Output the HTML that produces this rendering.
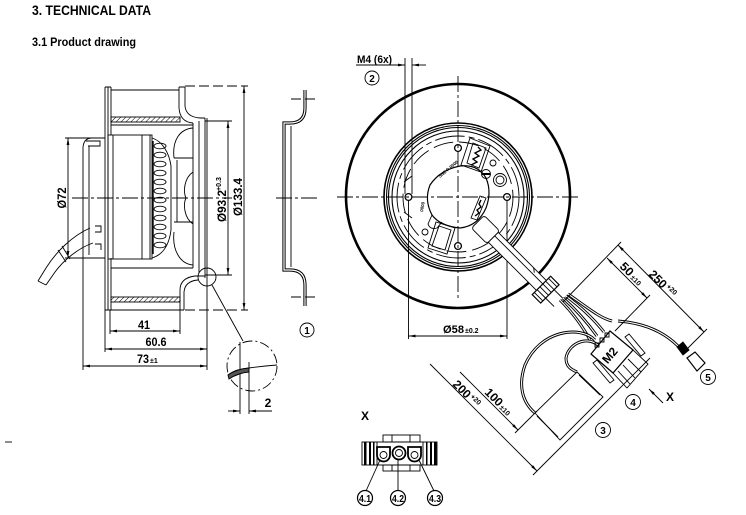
<!DOCTYPE html>
<html><head><meta charset="utf-8"><style>
html,body{margin:0;padding:0;background:#fff;}
svg{display:block}
.s line,.s path,.s circle,.s rect,.s polyline,.s polygon,.s ellipse{fill:none;stroke:#000;stroke-width:0.9}
text{font-family:"Liberation Sans",Arial,sans-serif;font-weight:bold;fill:#000;stroke:none}
.cl{stroke-dasharray:16 3 3 3}
.dl{stroke-dasharray:10 4}
.dim{marker-start:url(#a);marker-end:url(#a)}
.ae{marker-end:url(#a)}
.wb{stroke-width:3 !important}
.ww{stroke:#fff !important;stroke-width:1.1 !important}
</style></head><body>
<svg class="s" width="746" height="515" viewBox="0 0 746 515" xmlns="http://www.w3.org/2000/svg">
<defs>
<marker id="a" viewBox="0 0 10 4" refX="10" refY="2" markerWidth="7" markerHeight="2.8" markerUnits="userSpaceOnUse" orient="auto-start-reverse"><path d="M0 0L10 2L0 4z" style="fill:#000;stroke:none"/></marker>
<pattern id="h" width="3.5" height="3.5" patternUnits="userSpaceOnUse" patternTransform="rotate(45)"><line x1="0" y1="0" x2="0" y2="3.5" style="stroke:#000;stroke-width:1"/></pattern>
</defs>

<!-- Titles -->
<text x="32" y="15" font-size="14" textLength="119" lengthAdjust="spacingAndGlyphs">3. TECHNICAL DATA</text>
<text x="32" y="46" font-size="11.5" textLength="104" lengthAdjust="spacingAndGlyphs">3.1 Product drawing</text>

<!-- ================= LEFT SIDE VIEW ================= -->
<line class="cl" x1="72" y1="198" x2="232" y2="198"/>
<!-- plate -->
<path d="M105 87 V310 M108 87 V310 M111 87 V135 M111 258 V310 M105 87 H111 M105 310 H111"/>
<!-- top ring -->
<line x1="111" y1="90" x2="179" y2="90"/>
<rect x="111" y="117" width="69" height="5" style="fill:url(#h)"/>
<line x1="111" y1="125" x2="193" y2="125"/>
<path d="M179 87 V108 Q180 122 193 123 M185 87 V106 Q186 117 200 118 H205 M179 87 H185"/>
<!-- bottom ring -->
<line x1="111" y1="268" x2="193" y2="268"/>
<rect x="111" y="297" width="69" height="5" style="fill:url(#h)"/>
<path d="M105 310 H184 M180 310 V290 Q180 278 195 276 H205 M184 310 V292 Q185 281 198 280"/>
<!-- blades -->
<path d="M193 123 V268 M205 118 V278 M199 121 V273"/>
<path d="M193 128 C180 129 172 140 174 158 M174 158 H193 M174 222 H193 M193 265 C180 264 172 250 174 232 M177 160 V222"/>
<path d="M193 172 C184 178 183 192 186 198 C183 204 184 218 193 224"/>
<!-- motor cap -->
<path d="M105 138 H92 Q84 138 83 147 V258 H105"/>
<path d="M89 146 V255 M86 141 H100 V146 H88 M95 226 H101 V232 H95 M95 244 H101 V250"/>
<!-- motor body -->
<rect x="108" y="135" width="44" height="124"/>
<line x1="113" y1="135" x2="113" y2="259"/>
<line x1="142" y1="135" x2="142" y2="259"/>
<line x1="150" y1="135" x2="150" y2="259"/>
<path d="M152 138 C162 141 169 152 171 166 V230 C169 246 162 255 152 258"/>
<g style="stroke-width:1.3">
<ellipse cx="160" cy="146" rx="6" ry="2.8"/>
<ellipse cx="160" cy="155" rx="6" ry="2.8"/>
<ellipse cx="160" cy="164" rx="6" ry="2.8"/>
<ellipse cx="160" cy="173" rx="6" ry="2.8"/>
<ellipse cx="160" cy="182" rx="6" ry="2.8"/>
<ellipse cx="160" cy="191" rx="6" ry="2.8"/>
<ellipse cx="160" cy="200" rx="6" ry="2.8"/>
<ellipse cx="160" cy="209" rx="6" ry="2.8"/>
<ellipse cx="160" cy="218" rx="6" ry="2.8"/>
<ellipse cx="160" cy="227" rx="6" ry="2.8"/>
<ellipse cx="160" cy="236" rx="6" ry="2.8"/>
<ellipse cx="160" cy="245" rx="6" ry="2.8"/>
</g>
<line x1="153" y1="141" x2="153" y2="254" style="stroke-width:1.4"/>
<!-- cable -->
<path d="M90 228 C72 236 56 252 46 268 L38 281 M93 243 C78 248 63 261 55 272 L46 285 M38 281 L46 285 M58 250 L66 262 M62 246 L70 259"/>
<!-- dims -->
<line x1="65" y1="138" x2="92" y2="138"/>
<line x1="65" y1="258" x2="88" y2="258"/>
<line class="dim" x1="68" y1="138" x2="68" y2="258"/>
<text transform="translate(66,198) rotate(-90)" text-anchor="middle" font-size="12" textLength="21" lengthAdjust="spacingAndGlyphs">Ø72</text>

<line x1="205" y1="121" x2="232" y2="121"/>
<line x1="205" y1="275" x2="232" y2="275"/>
<line class="dim" x1="228" y1="121" x2="228" y2="275"/>
<text transform="translate(226,206) rotate(-90)" text-anchor="middle" font-size="12" textLength="32" lengthAdjust="spacingAndGlyphs">Ø93.2</text>
<text transform="translate(221,184) rotate(-90)" text-anchor="middle" font-size="7">+0.3</text>

<line class="dl" x1="185" y1="86" x2="248" y2="86"/>
<line class="dl" x1="185" y1="310" x2="248" y2="310"/>
<line class="dim" x1="244" y1="86" x2="244" y2="310"/>
<text transform="translate(242,197) rotate(-90)" text-anchor="middle" font-size="12" textLength="38" lengthAdjust="spacingAndGlyphs">Ø133.4</text>

<line x1="110" y1="310" x2="110" y2="334"/>
<line x1="180" y1="310" x2="180" y2="334"/>
<line x1="105" y1="310" x2="105" y2="352"/>
<line x1="207" y1="118" x2="207" y2="370"/>
<line x1="83" y1="258" x2="83" y2="370"/>
<line class="dim" x1="110" y1="331" x2="180" y2="331"/>
<line class="dim" x1="105" y1="349" x2="207" y2="349"/>
<line class="dim" x1="83" y1="366" x2="207" y2="366"/>
<text x="144" y="329" text-anchor="middle" font-size="12" textLength="12" lengthAdjust="spacingAndGlyphs">41</text>
<text x="156" y="346" text-anchor="middle" font-size="12" textLength="21" lengthAdjust="spacingAndGlyphs">60.6</text>
<text x="137" y="363" font-size="12" textLength="12" lengthAdjust="spacingAndGlyphs">73</text>
<text x="150" y="363" font-size="7">±1</text>

<!-- detail -->
<circle cx="207" cy="277" r="9"/>
<line x1="212" y1="285" x2="243" y2="341"/>
<circle cx="252" cy="366" r="25" style="stroke-dasharray:10 3 2 3"/>
<line x1="240" y1="342" x2="240" y2="414"/>
<line x1="249" y1="362" x2="249" y2="414"/>
<path d="M228 375 Q236 369 249 368 Q263 366 277 365"/>
<path d="M228 375 Q236 369 249 368 L249 372 Q238 373 229 379 Z" style="fill:#555"/>
<line class="ae" x1="228" y1="411" x2="240" y2="411"/>
<line class="ae" x1="272" y1="411" x2="249" y2="411"/>
<text x="268" y="407" text-anchor="middle" font-size="12">2</text>

<!-- ================= MIDDLE PROFILE ================= -->
<path d="M305 90 V108 Q305 123 290 123 H284 V270 H290 Q305 270 305 285 V306" style="stroke-width:3.2"/>
<path d="M305 90 V108 Q305 123 290 123 H284 V270 H290 Q305 270 305 285 V306" style="stroke:#fff;stroke-width:1.2"/>
<line x1="291" y1="126" x2="291" y2="267"/>
<line class="dl" x1="291" y1="99" x2="319" y2="99"/>
<line class="cl" x1="276" y1="198" x2="320" y2="198"/>
<line class="dl" x1="291" y1="297" x2="319" y2="297"/>
<circle cx="307" cy="330" r="7"/>
<text x="307" y="334" text-anchor="middle" font-size="10">1</text>

<!-- ================= RIGHT FRONT VIEW ================= -->
<circle cx="458" cy="196" r="112" style="stroke-width:2.6"/>
<line class="cl" x1="337" y1="197" x2="580" y2="197"/>
<line class="cl" x1="458" y1="76" x2="458" y2="300"/>
<circle cx="458" cy="197" r="74" style="stroke-width:1.6"/>
<circle cx="458" cy="197" r="71.5" style="stroke-width:1.1"/>
<circle cx="458" cy="197" r="69.5" style="stroke-width:1.1"/>
<circle cx="458" cy="197" r="66" style="stroke-width:1.1"/>
<circle cx="458" cy="197" r="61" style="stroke-dasharray:30 4 6 4"/>
<circle cx="458" cy="197" r="55" style="stroke-dasharray:20 6"/>
<!-- holes -->
<circle cx="458" cy="148" r="3.4" style="stroke-width:1.3"/>
<circle cx="408.5" cy="197" r="3.4" style="stroke-width:1.3"/>
<circle cx="507" cy="197" r="3.4" style="stroke-width:1.3"/>
<circle cx="458" cy="246" r="3.4" style="stroke-width:1.3"/>
<circle cx="425" cy="232" r="3"/>
<circle cx="493" cy="163" r="3"/>
<circle cx="500" cy="180" r="6.5"/>
<circle cx="500" cy="180" r="4"/>
<circle cx="486" cy="174" r="4.5"/>
<line x1="482" y1="174" x2="490" y2="174" style="stroke-width:2"/>
<!-- central opening -->
<path d="M430 185 Q440 170 460 166 Q478 164 486 178 Q492 192 486 208 Q478 226 460 228 Q440 226 432 215 Q424 200 430 185 Z" style="stroke-width:1.2"/>
<path d="M432 215 L428 224 Q430 230 437 228 L442 222"/>
<!-- hub connectors -->
<polygon points="470,138 490,146 481,172 461,165"/>
<polygon points="473,143 486,148 479,168 467,163"/>
<path d="M478 147 L481 150 L475 153 L479 156 L473 159 L477 162 L471 165" style="stroke-width:1.4"/>
<polygon points="436,222 455,228 447,254 428,248"/>
<polygon points="439,226 451,230 445,250 432,246"/>
<polygon points="480,196 486,198 477,220 471,218"/>
<path d="M481 200 L479 204 L481 207 L477 210 L479 213 L475 216" style="stroke-width:1.4"/>
<!-- tiny markings -->
<text transform="translate(440,178) rotate(-40)" font-size="4.5">SN2 P 0000</text>
<text transform="translate(423,212) rotate(-80)" font-size="4.5">0000</text>
<path d="M404 182 L412 176 M404 212 L412 218"/>

<!-- M4 -->
<text x="357" y="63" font-size="11" textLength="35" lengthAdjust="spacingAndGlyphs">M4 (6x)</text>
<line class="ae" x1="356" y1="65" x2="405" y2="65"/>
<line class="ae" x1="426" y1="65" x2="412" y2="65"/>
<line x1="405" y1="58" x2="405" y2="194"/>
<line x1="412" y1="58" x2="412" y2="194"/>
<circle cx="372" cy="78" r="7"/>
<text x="372" y="82" text-anchor="middle" font-size="10">2</text>

<!-- Ø58 -->
<line x1="408.5" y1="200" x2="408.5" y2="339"/>
<line x1="507" y1="200" x2="507" y2="339"/>
<line class="dim" x1="408.5" y1="336" x2="507" y2="336"/>
<text x="443" y="333" font-size="11" textLength="21" lengthAdjust="spacingAndGlyphs">Ø58</text>
<text x="465" y="333" font-size="7">±0.2</text>

<!-- cable from hub -->
<g transform="translate(482,226) rotate(45)">
  <rect x="-6" y="-9" width="22" height="18" rx="3" style="fill:#fff"/>
  <rect x="16" y="-7" width="68" height="14" style="fill:#fff"/>
  <line x1="16" y1="-2" x2="84" y2="-2"/>
  <line x1="66" y1="-7" x2="70" y2="-4"/>
  <rect x="84" y="-13" width="12" height="26" style="fill:#fff;stroke-width:1.2"/>
  <path d="M84 -10 H96 M84 -6 H96 M84 -2 H96 M84 2 H96 M84 6 H96 M84 10 H96"/>
  <path d="M96 -6 H108 M96 6 H108"/>
</g>

<!-- wires -->
<g>
<path class="wb" d="M560 300 Q578 318 590 340"/>
<path class="ww" d="M560 300 Q578 318 590 340"/>
<path class="wb" d="M563 298 Q582 315 597 336"/>
<path class="ww" d="M563 298 Q582 315 597 336"/>
<path class="wb" d="M566 296 Q588 312 604 332"/>
<path class="ww" d="M566 296 Q588 312 604 332"/>
<path class="wb" d="M568 294 C588 308 600 318 612 321"/>
<path class="ww" d="M568 294 C588 308 600 318 612 321"/>
<path class="wb" d="M618 321 C645 323 664 332 678 346"/>
<path class="ww" d="M618 321 C645 323 664 332 678 346"/>
<path class="wb" d="M595 340 C580 325 540 330 525 365 C518 385 522 402 535 413"/>
<path class="ww" d="M595 340 C580 325 540 330 525 365 C518 385 522 402 535 413"/>
<path class="wb" d="M598 345 C585 335 568 345 566 358 C566 366 570 369 577 372"/>
<path class="ww" d="M598 345 C585 335 568 345 566 358 C566 366 570 369 577 372"/>
</g>
<!-- capacitor -->
<polygon points="577,372 603,397 560,440 535,413" style="fill:#fff"/>
<path d="M579 375 L600 395 M537 416 L558 437"/>
<!-- M2 -->
<polygon points="591,354 610,331 633,350 613,373" style="fill:#fff;stroke-width:1.2"/>
<text transform="translate(613,358) rotate(-50)" text-anchor="middle" font-size="12">M2</text>
<path d="M595 343 h4 v4 h-4z M600 338 h4 v4 h-4z M605 333 h4 v4 h-4z"/>
<polygon points="613,373 633,350 648,364 627,388"/>
<path d="M618 371 L630 384 M623 365 L635 378 M628 359 L641 372"/>
<polygon points="625,337 629,334 645,353 641,356"/>
<polygon points="593,363 597,360 614,380 610,383"/>
<!-- terminal 5 -->
<polygon points="677,347 683,342 689,350 683,355" style="fill:#000"/>
<polygon points="687,358 695,352 705,363 697,371" style="stroke-width:1.2"/>

<!-- diagonal dims -->
<line x1="563" y1="302" x2="621" y2="242"/>
<line x1="685" y1="351" x2="707" y2="329"/>
<line class="dim" x1="618" y1="245" x2="704" y2="332"/>
<line x1="615" y1="331" x2="650" y2="295"/>
<line class="dim" x1="607" y1="258" x2="647" y2="298"/>
<text transform="translate(619,267) rotate(45)" font-size="12" textLength="14" lengthAdjust="spacingAndGlyphs">50</text>
<text transform="translate(630,278) rotate(45)" font-size="7">±10</text>
<text transform="translate(648,275) rotate(45)" font-size="12" textLength="20" lengthAdjust="spacingAndGlyphs">250</text>
<text transform="translate(666,287) rotate(45)" font-size="7">+20</text>

<line class="ae" x1="430" y1="364" x2="537" y2="471"/>
<line x1="533" y1="475" x2="650" y2="358"/>
<line class="ae" x1="460" y1="372" x2="518" y2="430"/>
<line x1="515" y1="433" x2="537" y2="411"/>
<text transform="translate(452,385) rotate(45)" font-size="12" textLength="20" lengthAdjust="spacingAndGlyphs">200</text>
<text transform="translate(470,397) rotate(45)" font-size="7">+20</text>
<text transform="translate(484,393) rotate(45)" font-size="12" textLength="20" lengthAdjust="spacingAndGlyphs">100</text>
<text transform="translate(499,408) rotate(45)" font-size="7">±10</text>

<!-- labels -->
<circle cx="603" cy="430" r="7.5"/>
<text x="603" y="434" text-anchor="middle" font-size="10">3</text>
<circle cx="633" cy="402" r="7.5"/>
<text x="633" y="406" text-anchor="middle" font-size="10">4</text>
<circle cx="708" cy="377" r="7.5"/>
<text x="708" y="381" text-anchor="middle" font-size="10">5</text>
<line class="ae" x1="663" y1="403" x2="649" y2="389"/>
<text x="666" y="401" font-size="12">X</text>

<!-- ================= CONNECTOR VIEW X ================= -->
<text x="361" y="420" font-size="12">X</text>
<rect x="362" y="442" width="75" height="23"/>
<rect x="383" y="435" width="37" height="7"/>
<rect x="383" y="465" width="37" height="6"/>
<line x1="392" y1="435" x2="392" y2="442"/>
<line x1="410" y1="435" x2="410" y2="442"/>
<line x1="392" y1="465" x2="392" y2="471"/>
<line x1="410" y1="465" x2="410" y2="471"/>
<line x1="377" y1="442" x2="377" y2="465"/>
<line x1="423" y1="442" x2="423" y2="465"/>
<rect x="364" y="442" width="2.5" height="23" style="fill:#000;stroke:none"/>
<rect x="369" y="442" width="2" height="23" style="fill:#000;stroke:none"/>
<rect x="373" y="442" width="1.5" height="23" style="fill:#000;stroke:none"/>
<rect x="426" y="442" width="1.5" height="23" style="fill:#000;stroke:none"/>
<rect x="430" y="442" width="2" height="23" style="fill:#000;stroke:none"/>
<rect x="434" y="442" width="2.5" height="23" style="fill:#000;stroke:none"/>
<path d="M377 447 H390 V455 A6.5 6.5 0 0 1 377 455 Z" style="stroke-width:1.8"/>
<circle cx="383.5" cy="455" r="3.5"/>
<circle cx="399" cy="453" r="6.5" style="stroke-width:1.8"/>
<circle cx="399" cy="453" r="3.5"/>
<path d="M408 447 H421 V455 A6.5 6.5 0 0 1 408 455 Z" style="stroke-width:1.8"/>
<circle cx="414.5" cy="455" r="3.5"/>
<line x1="380" y1="460" x2="366" y2="491"/>
<line x1="398" y1="460" x2="398" y2="490"/>
<line x1="419" y1="460" x2="434" y2="491"/>
<circle cx="365" cy="498" r="7.5" style="stroke-width:1.2"/>
<circle cx="398" cy="498" r="7.5" style="stroke-width:1.2"/>
<circle cx="435" cy="498" r="7.5" style="stroke-width:1.2"/>
<text x="365" y="502" text-anchor="middle" font-size="10" textLength="12" lengthAdjust="spacingAndGlyphs">4.1</text>
<text x="398" y="502" text-anchor="middle" font-size="10" textLength="12" lengthAdjust="spacingAndGlyphs">4.2</text>
<text x="435" y="502" text-anchor="middle" font-size="10" textLength="12" lengthAdjust="spacingAndGlyphs">4.3</text>

<line x1="5" y1="442" x2="12" y2="442"/>
</svg>
</body></html>
